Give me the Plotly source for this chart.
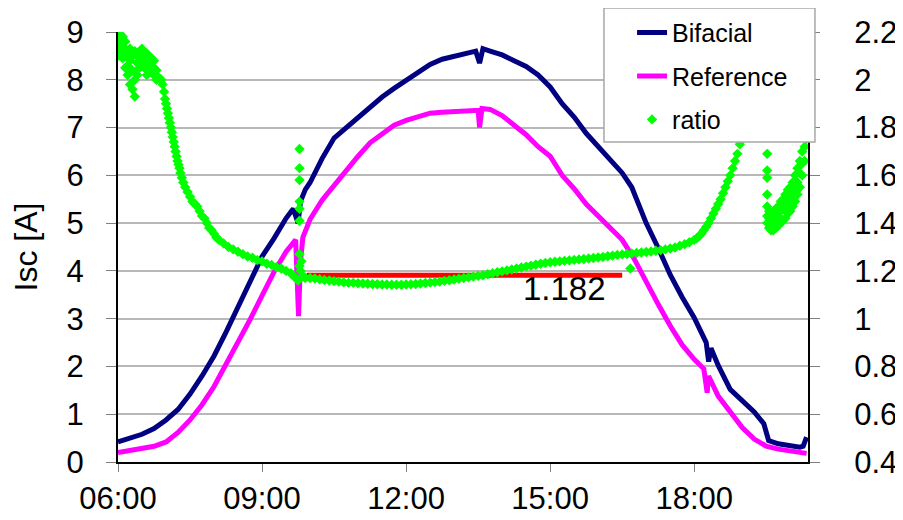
import plotly.graph_objects as go

# ---------------- data ----------------
tick_hours = [6, 9, 12, 15, 18]
tick_labels = ["06:00", "09:00", "12:00", "15:00", "18:00"]

bifacial_time = [6.0, 6.25, 6.5, 6.75, 7.0, 7.25, 7.5, 7.75, 8.0, 8.25, 8.5, 8.75, 9.0, 9.25,
                 9.5, 9.65, 9.75, 9.8, 9.9, 10.0, 10.25, 10.5, 10.75, 11.0, 11.25, 11.5, 11.75,
                 12.0, 12.25, 12.5, 12.75, 13.0, 13.25, 13.45, 13.53, 13.6, 13.75, 14.0, 14.25,
                 14.5, 14.75, 15.0, 15.25, 15.5, 15.75, 16.0, 16.25, 16.5, 16.7, 16.85, 17.0,
                 17.25, 17.5, 17.75, 18.0, 18.25, 18.3, 18.35, 18.5, 18.75, 19.0, 19.25, 19.45,
                 19.55, 19.75, 20.0, 20.2, 20.27, 20.34]
bifacial_isc = [0.42, 0.5, 0.58, 0.7, 0.88, 1.1, 1.42, 1.8, 2.22, 2.72, 3.25, 3.78, 4.3, 4.68,
                5.1, 5.3, 5.0, 5.45, 5.7, 5.85, 6.35, 6.78, 7.0, 7.2, 7.45, 7.64, 7.82,
                7.98, 8.15, 8.32, 8.43, 8.5, 8.55, 8.6, 8.35, 8.65, 8.6, 8.52, 8.4,
                8.28, 8.1, 7.85, 7.5, 7.22, 6.88, 6.6, 6.35, 6.05, 5.75, 5.35, 5.0,
                4.48, 3.92, 3.45, 3.02, 2.5, 2.1, 2.38, 2.02, 1.52, 1.28, 1.05, 0.8,
                0.45, 0.38, 0.34, 0.31, 0.33, 0.52]

reference_time = [6.0, 6.25, 6.5, 6.75, 7.0, 7.25, 7.5, 7.75, 8.0, 8.25, 8.5, 8.75, 9.0, 9.25,
                  9.5, 9.7, 9.76, 9.8, 9.85, 10.0, 10.25, 10.5, 10.75, 11.0, 11.25, 11.5, 11.75,
                  12.0, 12.25, 12.5, 12.75, 13.0, 13.25, 13.5, 13.53, 13.58, 13.75, 14.0, 14.25,
                  14.5, 14.75, 15.0, 15.25, 15.5, 15.75, 16.0, 16.25, 16.5, 16.75, 17.0, 17.25,
                  17.5, 17.75, 18.0, 18.2, 18.27, 18.3, 18.5, 18.75, 19.0, 19.25, 19.5, 19.75,
                  20.0, 20.34]
reference_isc = [0.2, 0.24, 0.28, 0.33, 0.42, 0.62, 0.88, 1.2, 1.58, 2.03, 2.5, 2.98, 3.48, 3.98,
                 4.4, 4.65, 3.05, 4.2, 4.7, 5.08, 5.48, 5.8, 6.1, 6.4, 6.68, 6.88, 7.05,
                 7.15, 7.23, 7.3, 7.32, 7.33, 7.35, 7.36, 7.0, 7.4, 7.38, 7.25, 7.05,
                 6.85, 6.6, 6.4, 6.0, 5.72, 5.4, 5.15, 4.92, 4.65, 4.25, 3.75, 3.3,
                 2.85, 2.45, 2.15, 1.95, 1.45, 1.8, 1.38, 1.05, 0.72, 0.48, 0.33, 0.27,
                 0.23, 0.18]

ratio_time = [
    6.0, 6.0, 6.0, 6.0, 6.05, 6.05, 6.05, 6.1, 6.1, 6.1, 6.15, 6.15, 6.15, 6.2, 6.2, 6.2,
    6.25, 6.25, 6.25, 6.3, 6.3, 6.3, 6.35, 6.35, 6.35, 6.4, 6.4, 6.4, 6.45, 6.45, 6.45,
    6.5, 6.5, 6.5, 6.55, 6.55, 6.55, 6.6, 6.6, 6.6, 6.65, 6.65, 6.65, 6.7, 6.7, 6.7,
    6.75, 6.75, 6.75, 6.8, 6.8,
    6.85, 6.9, 6.93, 6.96, 6.98, 7.0, 7.02, 7.04, 7.06, 7.08, 7.1, 7.12, 7.14, 7.16, 7.18,
    7.2, 7.22, 7.24, 7.26, 7.28, 7.3, 7.33, 7.36,
    7.4, 7.45, 7.5, 7.55, 7.6, 7.65, 7.7, 7.75, 7.8, 7.85, 7.9, 7.95, 8.0, 8.05, 8.1, 8.2,
    8.3, 8.4, 8.5, 8.6, 8.7, 8.8, 8.9, 9.0, 9.1, 9.2, 9.3, 9.4, 9.5, 9.6, 9.65, 9.7, 9.75,
    9.78, 9.78, 9.78, 9.78, 9.78, 9.78, 9.78, 9.78, 9.8, 9.82,
    9.85, 9.9, 10.0, 10.1, 10.2, 10.3, 10.4, 10.5, 10.6, 10.7, 10.8, 10.9, 11.0, 11.1,
    11.2, 11.3, 11.4, 11.5, 11.6, 11.7, 11.8, 11.9, 12.0, 12.1, 12.2, 12.3, 12.4, 12.5,
    12.6, 12.7, 12.8, 12.9, 13.0, 13.1, 13.2, 13.3, 13.4, 13.5, 13.6, 13.7, 13.8, 13.9,
    14.0, 14.1, 14.2, 14.3, 14.4, 14.5, 14.6, 14.7, 14.8, 14.9, 15.0, 15.1, 15.2, 15.3,
    15.4, 15.5, 15.6, 15.7, 15.8, 15.9, 16.0, 16.1, 16.2, 16.3, 16.4, 16.5, 16.6, 16.67,
    16.7, 16.8, 16.9, 17.0, 17.1, 17.2, 17.3, 17.4, 17.5, 17.6, 17.7, 17.8, 17.9, 18.0,
    18.05, 18.1, 18.15, 18.2, 18.25, 18.3, 18.35, 18.4, 18.45, 18.5, 18.55, 18.6, 18.65,
    18.7, 18.75, 18.8, 18.85, 18.9, 18.95, 19.0, 19.05, 19.1,
    19.52, 19.52, 19.52, 19.52, 19.52, 19.52, 19.52, 19.56, 19.56, 19.56, 19.6, 19.6, 19.6,
    19.65, 19.65, 19.65, 19.7, 19.7, 19.7, 19.75, 19.75, 19.75, 19.8, 19.8, 19.8,
    19.85, 19.85, 19.85, 19.9, 19.9, 19.9, 19.95, 19.95, 19.95, 20.0, 20.0, 20.0,
    20.05, 20.05, 20.05, 20.1, 20.1, 20.1, 20.15, 20.15, 20.15, 20.2, 20.2, 20.2,
    20.25, 20.25, 20.25, 20.3, 20.3, 20.3, 20.33, 20.33]
ratio_value = [
    2.2, 2.17, 2.13, 2.1, 2.19, 2.15, 2.12, 2.18, 2.14, 2.09, 2.16, 2.1, 2.05, 2.12, 2.06, 2.02,
    2.13, 2.08, 1.98, 2.1, 2.04, 1.96, 2.12, 2.0, 1.93, 2.11, 2.07, 2.02, 2.12, 2.09, 2.05,
    2.13, 2.1, 2.07, 2.11, 2.08, 2.05, 2.11, 2.07, 2.02, 2.1, 2.08, 2.04, 2.09, 2.06, 2.03,
    2.08, 2.05, 2.02, 2.04, 2.0,
    2.01, 2.0, 1.98, 1.95, 1.92, 1.9, 1.88, 1.86, 1.84, 1.82, 1.8, 1.78, 1.76, 1.74, 1.72,
    1.7, 1.68, 1.66, 1.645, 1.63, 1.61, 1.59, 1.57,
    1.55, 1.53, 1.51, 1.49, 1.48, 1.47, 1.45, 1.43, 1.42, 1.4, 1.38, 1.37, 1.355, 1.34, 1.33, 1.315,
    1.3, 1.29, 1.28, 1.27, 1.26, 1.255, 1.245, 1.24, 1.23, 1.225, 1.215, 1.21, 1.2, 1.19, 1.18, 1.17, 1.16,
    1.71, 1.63, 1.58, 1.49, 1.46, 1.41, 1.27, 1.22, 1.2, 1.24,
    1.18, 1.17, 1.17, 1.168, 1.165, 1.162, 1.16, 1.157, 1.155, 1.152, 1.15, 1.15, 1.148, 1.147,
    1.146, 1.145, 1.144, 1.143, 1.143, 1.142, 1.142, 1.142, 1.143, 1.144, 1.145, 1.147, 1.149, 1.151,
    1.153, 1.155, 1.158, 1.161, 1.164, 1.167, 1.17, 1.173, 1.176, 1.179, 1.182, 1.186, 1.19, 1.194,
    1.198, 1.202, 1.206, 1.21, 1.214, 1.218, 1.222, 1.226, 1.23, 1.233, 1.236, 1.238, 1.24, 1.242,
    1.244, 1.246, 1.248, 1.25, 1.252, 1.254, 1.256, 1.258, 1.261, 1.264, 1.267, 1.269, 1.271, 1.21,
    1.273, 1.275, 1.277, 1.279, 1.281, 1.284, 1.287, 1.29, 1.294, 1.298, 1.305, 1.312, 1.32, 1.33,
    1.336, 1.345, 1.355, 1.37, 1.385, 1.4, 1.42, 1.44, 1.46, 1.48, 1.5, 1.525, 1.55,
    1.575, 1.6, 1.63, 1.66, 1.69, 1.73, 1.77, 1.82, 1.88,
    1.69, 1.62, 1.59, 1.52, 1.47, 1.43, 1.4, 1.38, 1.42, 1.45, 1.37, 1.4, 1.44,
    1.37, 1.41, 1.45, 1.38, 1.42, 1.46, 1.39, 1.43, 1.47, 1.4, 1.45, 1.49,
    1.41, 1.46, 1.5, 1.42, 1.47, 1.52, 1.44, 1.49, 1.54, 1.45, 1.5, 1.55,
    1.47, 1.52, 1.57, 1.49, 1.54, 1.6, 1.52, 1.57, 1.63, 1.55, 1.61, 1.66,
    1.6, 1.65, 1.7, 1.66, 1.72, 1.78, 1.75, 1.82]

mean_ratio = 1.182
mean_time = [9.93, 16.5]
mean_label = "1.182"

y2_ticks = [0.4, 0.6, 0.8, 1.0, 1.2, 1.4, 1.6, 1.8, 2.0, 2.2]
y2_labels = ["0.4", "0.6", "0.8", "1", "1.2", "1.4", "1.6", "1.8", "2", "2.2"]

# ---------------- figure ----------------
FONT = "Liberation Sans, Arial, sans-serif"
fig = go.Figure()

fig.add_trace(go.Scatter(x=bifacial_time, y=bifacial_isc, mode="lines", name="Bifacial",
                         line=dict(color="#000080", width=5), legendgroup="a"))
fig.add_trace(go.Scatter(x=reference_time, y=reference_isc, mode="lines", name="Reference",
                         line=dict(color="#ff00ff", width=5), legendgroup="b"))
fig.add_trace(go.Scatter(x=mean_time, y=[mean_ratio] * len(mean_time), mode="lines",
                         line=dict(color="#ff0000", width=5), yaxis="y2", showlegend=False))
fig.add_trace(go.Scatter(x=ratio_time, y=ratio_value, mode="markers", name="ratio",
                         marker=dict(symbol="diamond", size=8, color="#00ff00"),
                         yaxis="y2", legendgroup="c"))

fig.add_annotation(x=15.29, y=1.128, xref="x", yref="y2", text=mean_label, showarrow=False,
                   font=dict(size=33, color="black", family=FONT))

# legend frame
fig.add_shape(type="rect", xref="paper", yref="paper", x0=0.7043, x1=1.0101, y0=0.7442, y1=1.0558,
              fillcolor="white", line=dict(color="#a8a8a8", width=1.5), layer="above")

# the page body adds an 8px offset, so the figure is 8px smaller and margins shifted
fig.update_layout(
    width=895, height=512,
    margin=dict(l=110, r=95, t=24, b=58, autoexpand=False),
    plot_bgcolor="white", paper_bgcolor="white",
    font=dict(family=FONT, color="black", size=31),
    showlegend=True,
    legend=dict(x=0.745, y=1.052, xanchor="left", yanchor="top", bgcolor="rgba(0,0,0,0)",
                borderwidth=0, font=dict(size=25, family=FONT), tracegroupgap=8),
    xaxis=dict(range=[6, 20.37], tickvals=tick_hours, ticktext=tick_labels, ticks="outside",
               ticklen=8, tickcolor="#808080", showline=True, linecolor="black", linewidth=2,
               showgrid=False, zeroline=False, tickfont=dict(size=31), ticklabelstandoff=0,
               automargin=False),
    yaxis=dict(range=[0, 9], dtick=1, ticks="outside", ticklen=10, tickcolor="#808080",
               showline=True, linecolor="black", linewidth=2, showgrid=True,
               gridcolor="#b8b8b8", gridwidth=1.5, zeroline=False, tickfont=dict(size=31),
               ticklabelstandoff=16, automargin=False,
               title=dict(text="Isc [A]", font=dict(size=32), standoff=22)),
    yaxis2=dict(range=[0.4, 2.2], tickvals=y2_ticks, ticktext=y2_labels, overlaying="y",
                side="right", ticks="outside", ticklen=10, tickcolor="#808080",
                showline=True, linecolor="black", linewidth=2, showgrid=False, zeroline=False,
                tickfont=dict(size=31), ticklabelstandoff=28, automargin=False),
)

fig.write_html("out.html")
